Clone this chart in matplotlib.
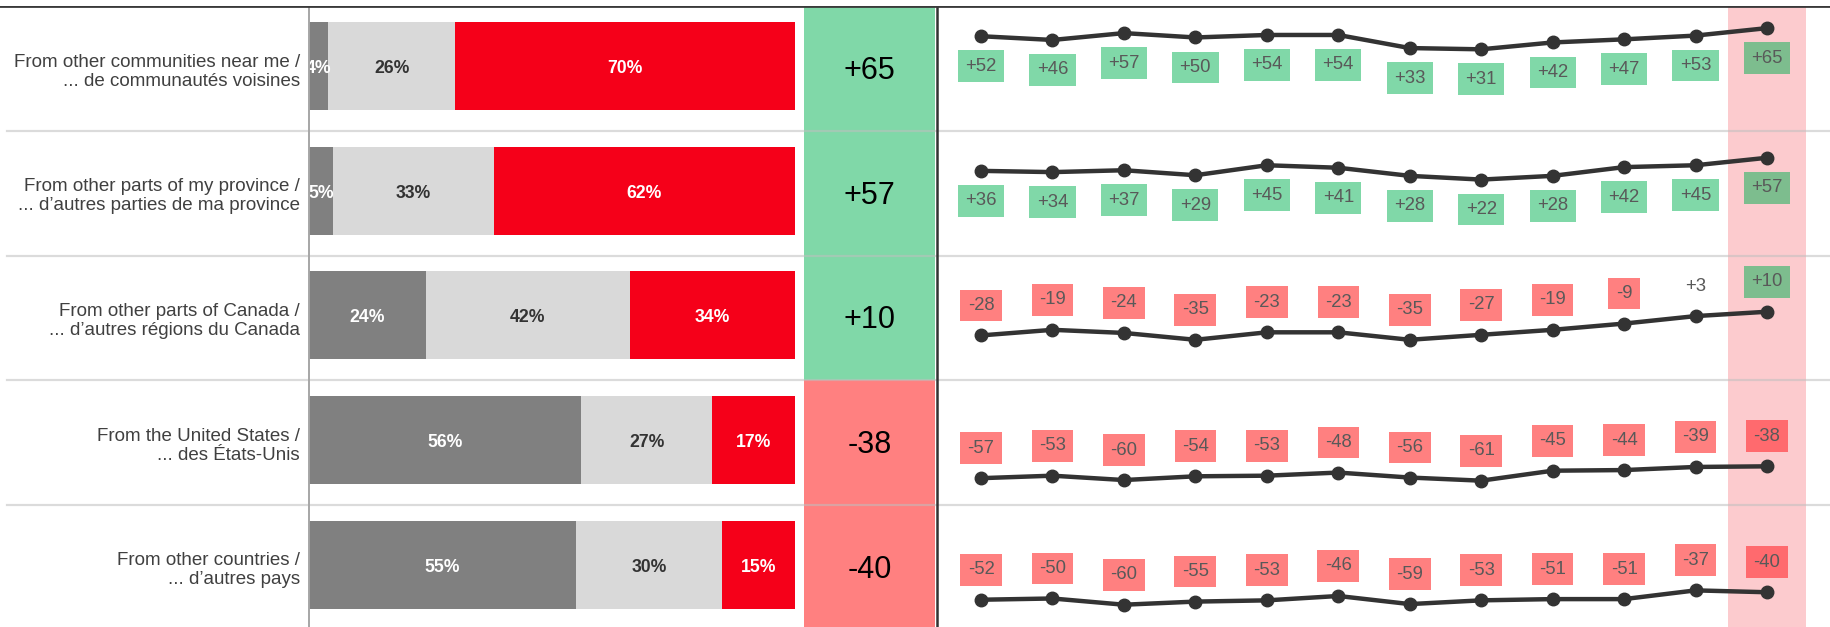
import matplotlib
matplotlib.use('Agg')
import matplotlib.pyplot as plt
import numpy as np

plt.rcParams['font.family'] = ['Liberation Sans', 'DejaVu Sans']

# ---- data ----
row_labels = [
    'From other communities near me /\n... de communautés voisines',
    'From other parts of my province /\n... d\u2019autres parties de ma province',
    'From other parts of Canada /\n... d\u2019autres régions du Canada',
    'From the United States /\n... des États-Unis',
    'From other countries /\n... d\u2019autres pays',
]
share_dark = [4, 5, 24, 56, 55]
share_light = [26, 33, 42, 27, 30]
share_red = [70, 62, 34, 17, 15]
net_scores = [65, 57, 10, -38, -40]

trend = [
    [52, 46, 57, 50, 54, 54, 33, 31, 42, 47, 53, 65],
    [36, 34, 37, 29, 45, 41, 28, 22, 28, 42, 45, 57],
    [-28, -19, -24, -35, -23, -23, -35, -27, -19, -9, 3, 10],
    [-57, -53, -60, -54, -53, -48, -56, -61, -45, -44, -39, -38],
    [-52, -50, -60, -55, -53, -46, -59, -53, -51, -51, -37, -40],
]
label_below = [True, True, False, False, False]

# ---- styling ----
C_DARK = '#808080'
C_LIGHT = '#d9d9d9'
C_RED = '#f50019'
C_POS = '#80d8a8'
C_NEG = '#ff8080'
C_POS_LAST = '#7dbd8e'
C_NEG_LAST = '#ff6a6e'
C_BAND = '#fccbce'
C_LINE = '#333333'

W, H = 1831, 627
fig = plt.figure(figsize=(W / 100, H / 100), dpi=100)

top_px = 6.3
pitch = 124.67
n = len(row_labels)
bottom_px = top_px + pitch * n


def fy(px):
    return 1 - px / H


ax_bottom = fy(bottom_px)
ax_height = (bottom_px - top_px) / H
rows = np.arange(n)
bar_y = rows - 0.02

# stacked bars
ax_bar = fig.add_axes([309 / W, ax_bottom, (795 - 309) / W, ax_height])
segments = [(share_dark, C_DARK, 'white'), (share_light, C_LIGHT, '#333333'), (share_red, C_RED, 'white')]
left = np.zeros(n)
for vals, col, tcol in segments:
    vals = np.array(vals, dtype=float)
    ax_bar.barh(bar_y, vals, left=left, height=0.706, color=col, edgecolor='none')
    for y, l, v in zip(rows, left, vals):
        ax_bar.text(l + v / 2, y, f'{int(v)}%', ha='center', va='center', fontsize=12.7,
                    fontweight='bold', color=tcol, clip_on=True)
    left += vals
ax_bar.set_xlim(0, 100)
ax_bar.set_ylim(n - 0.5, -0.5)
ax_bar.set_yticks(rows)
ax_bar.set_yticklabels(row_labels, fontsize=13.5, color='#404040', linespacing=1.15)
ax_bar.tick_params(axis='y', length=0, pad=6.5)
ax_bar.set_xticks([])
for s in ax_bar.spines.values():
    s.set_visible(False)

# net score column
ax_net = fig.add_axes([804 / W, ax_bottom, (935 - 804) / W, ax_height])
ax_net.barh(rows, [1] * n, height=1.0, color=[C_POS if v > 0 else C_NEG for v in net_scores],
            edgecolor='none')
for y, v in zip(rows + 0.02, net_scores):
    ax_net.text(0.5, y, f'{v:+d}', ha='center', va='center', fontsize=22, color='black')
ax_net.set_xlim(0, 1)
ax_net.set_ylim(n - 0.5, -0.5)
ax_net.axis('off')

# trend lines, one small axes per row
xs = np.arange(len(trend[0]))
for i, vals in enumerate(trend):
    band_top = top_px + pitch * i
    ax = fig.add_axes([937 / W, fy(band_top + pitch), (W - 937) / W, pitch / H])
    ax.axvspan(xs[-1] - 0.54, xs[-1] + 0.54, color=C_BAND, lw=0, zorder=0)
    ax.plot(xs, vals, color=C_LINE, lw=3.2, marker='o', ms=9, zorder=3)
    off = -21.6 if label_below[i] else 21.6
    for x, v in zip(xs, vals):
        last = x == xs[-1]
        if abs(v) < 5:
            box = None
        elif v > 0:
            box = dict(boxstyle='square,pad=0.4', fc=C_POS_LAST if last else C_POS, ec='none')
        else:
            box = dict(boxstyle='square,pad=0.4', fc=C_NEG_LAST if last else C_NEG, ec='none')
        ax.annotate(f'{v:+d}', (x, v), xytext=(0, off), textcoords='offset points',
                    ha='center', va='center', fontsize=13.3, color='#595959', bbox=box, zorder=4)
    ax.set_xlim(-0.616, 11.896)
    ax.set_ylim(-100, 100)
    ax.axis('off')

# grid lines on top
ov = fig.add_axes([0, ax_bottom, 1, ax_height])
ov.patch.set_alpha(0)
ov.set_xlim(0, 1)
ov.set_ylim(n - 0.5, -0.5)
ov.axis('off')
for k in range(n - 1):
    ov.axhline(k + 0.5, xmin=0.004, color='#bfbfbf', alpha=0.55, lw=1.6)
ov.axvline(ax_bar.get_position().x0, color='#a6a6a6', lw=1.4)
ov.axvline(937 / W, color=C_LINE, lw=1.8)
ov.axhline(-0.5, color='#3a3a3a', lw=2.0)

fig.savefig('out.png', dpi=100)
